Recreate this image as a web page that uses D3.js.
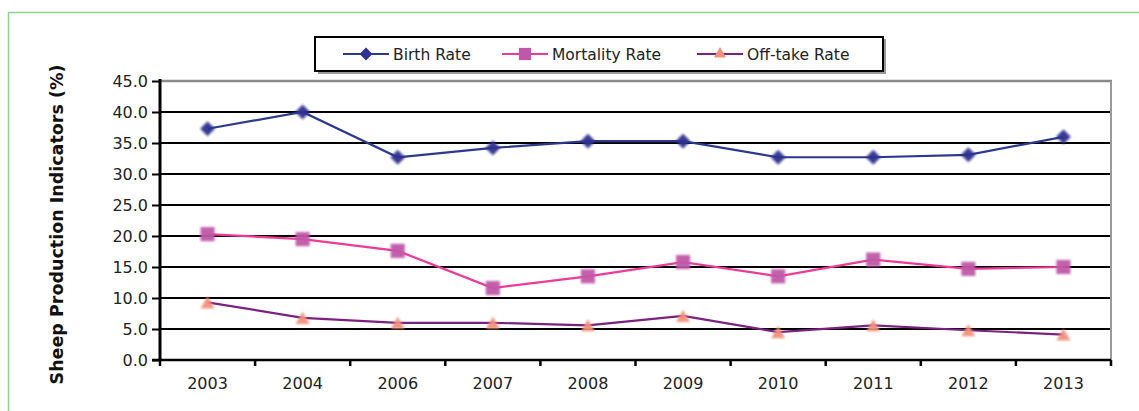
<!DOCTYPE html>
<html><head><meta charset="utf-8">
<script src="https://cdn.jsdelivr.net/npm/d3@7"></script>
<style>html,body{margin:0;padding:0;background:#fff;}svg{display:block;}</style>
</head><body>
<svg id="chart" width="1139" height="411"></svg>
<script>
const years = ["2003","2004","2006","2007","2008","2009","2010","2011","2012","2013"];
const birthRate = [37.3, 40.0, 32.7, 34.2, 35.3, 35.3, 32.7, 32.7, 33.1, 36.0];
const mortalityRate = [20.3, 19.5, 17.6, 11.6, 13.5, 15.8, 13.5, 16.2, 14.7, 15.0];
const offtakeRate = [9.3, 6.8, 6.0, 6.0, 5.6, 7.1, 4.5, 5.6, 4.8, 4.1];
const yTicks = [0, 5, 10, 15, 20, 25, 30, 35, 40, 45];
const yTitle = "Sheep Production Indicators (%)";
const seriesNames = ["Birth Rate", "Mortality Rate", "Off-take Rate"];

const font = "'DejaVu Sans', sans-serif";
const svg = d3.select("#chart");
// outer frame
svg.append("rect").attr("x", 8.5).attr("y", 12.5).attr("width", 1300).attr("height", 600)
  .attr("fill", "none").attr("stroke", "#8fd18f").attr("stroke-width", 1.5);

const L = 160, R = 1111, T = 81, B = 360;
const x = d3.scaleBand().domain(years).range([L, R]);
const y = d3.scaleLinear().domain([0, 45]).range([B, T]);

// gridlines
const g = svg.append("g");
g.selectAll("line.grid").data(yTicks.filter(t => t > 0 && t < 45)).enter().append("line")
  .attr("x1", L).attr("x2", R).attr("y1", d => y(d)).attr("y2", d => y(d))
  .attr("stroke", "#000").attr("stroke-width", 2);
// top & right border (gray)
g.append("line").attr("x1", L).attr("x2", R + 1).attr("y1", y(45)).attr("y2", y(45))
  .attr("stroke", "#8a8a8a").attr("stroke-width", 2.5);
g.append("line").attr("x1", R).attr("x2", R).attr("y1", y(45)).attr("y2", B)
  .attr("stroke", "#9a9a9a").attr("stroke-width", 2);

// y axis
const yAxis = d3.axisLeft(y).tickValues(yTicks).tickFormat(d3.format(".1f")).tickSize(8).tickPadding(4);
const ya = svg.append("g").attr("transform", `translate(${L},0)`).call(yAxis);
ya.select(".domain").attr("stroke", "#000").attr("stroke-width", 3).attr("d", `M0,${T - 2}V${B}`);
ya.selectAll(".tick line").attr("stroke", "#000").attr("stroke-width", 2);
ya.selectAll(".tick text").attr("font-family", font).attr("font-size", 16).attr("fill", "#222");

// x axis
const xAxis = d3.axisBottom(x).tickSize(0).tickPadding(18);
const xa = svg.append("g").attr("transform", `translate(0,${B})`).call(xAxis);
xa.select(".domain").attr("stroke", "#000").attr("stroke-width", 2.5).attr("d", `M${L - 8},0H${R}`);
xa.selectAll(".tick text").attr("font-family", font).attr("font-size", 16).attr("fill", "#222");
// boundary ticks
const bounds = years.map(d => x(d)).concat([R]);
xa.selectAll("line.bt").data(bounds).enter().append("line")
  .attr("x1", d => d).attr("x2", d => d).attr("y1", 0).attr("y2", 6)
  .attr("stroke", "#000").attr("stroke-width", 2.5);

// y title
svg.append("text").attr("transform", `translate(63,${(T + B) / 2 + 4}) rotate(-90)`)
  .attr("text-anchor", "middle").attr("font-family", font).attr("font-weight", "bold")
  .attr("font-size", 17.5).attr("fill", "#111").text(yTitle);

const cx = d => x(d) + x.bandwidth() / 2;
const defs = svg.append("defs");
defs.append("filter").attr("id", "blur").append("feGaussianBlur").attr("stdDeviation", 1);

const series = [
  {name: seriesNames[0], data: birthRate, line: "#2b3990", mark: "#2e3192", shape: d3.symbolSquare, size: 110, rot: 45},
  {name: seriesNames[1], data: mortalityRate, line: "#ee3a96", mark: "#c058a8", shape: d3.symbolSquare, size: 200, rot: 0},
  {name: seriesNames[2], data: offtakeRate, line: "#7b2280", mark: "#f4907a", shape: d3.symbolTriangle, size: 85, rot: 0}
];
const lineGen = d3.line().x((d, i) => cx(years[i])).y(d => y(d));
series.forEach(s => {
  svg.append("path").datum(s.data).attr("d", lineGen).attr("fill", "none")
    .attr("stroke", s.line).attr("stroke-width", 2.2);
  svg.selectAll(null).data(s.data).enter().append("path")
    .attr("d", d3.symbol().type(s.shape).size(s.size))
    .attr("transform", (d, i) => `translate(${cx(years[i])},${y(d) + (s.shape === d3.symbolTriangle ? 2 : 0)}) rotate(${s.rot})`)
    .attr("fill", s.mark).attr("filter", "url(#blur)").attr("opacity", 0.95);
});

// legend
const lg = svg.append("g");
lg.append("rect").attr("x", 318).attr("y", 39).attr("width", 568).attr("height", 35).attr("fill", "#999");
lg.append("rect").attr("x", 315).attr("y", 37).attr("width", 568).attr("height", 34)
  .attr("fill", "#fff").attr("stroke", "#000").attr("stroke-width", 2);
const legX = [343, 502, 697];
series.forEach((s, i) => {
  const gx = legX[i], gy = 54;
  lg.append("line").attr("x1", gx).attr("x2", gx + 46).attr("y1", gy).attr("y2", gy)
    .attr("stroke", s.line).attr("stroke-width", 2.2);
  lg.append("path").attr("d", d3.symbol().type(s.shape).size(s.size * 0.75))
    .attr("transform", `translate(${gx + 23},${gy}) rotate(${s.rot})`).attr("fill", s.mark);
  lg.append("text").attr("x", gx + 50).attr("y", gy + 6).attr("font-family", font)
    .attr("font-size", 15.5).attr("fill", "#222").text(s.name);
});
</script>
</body></html>
